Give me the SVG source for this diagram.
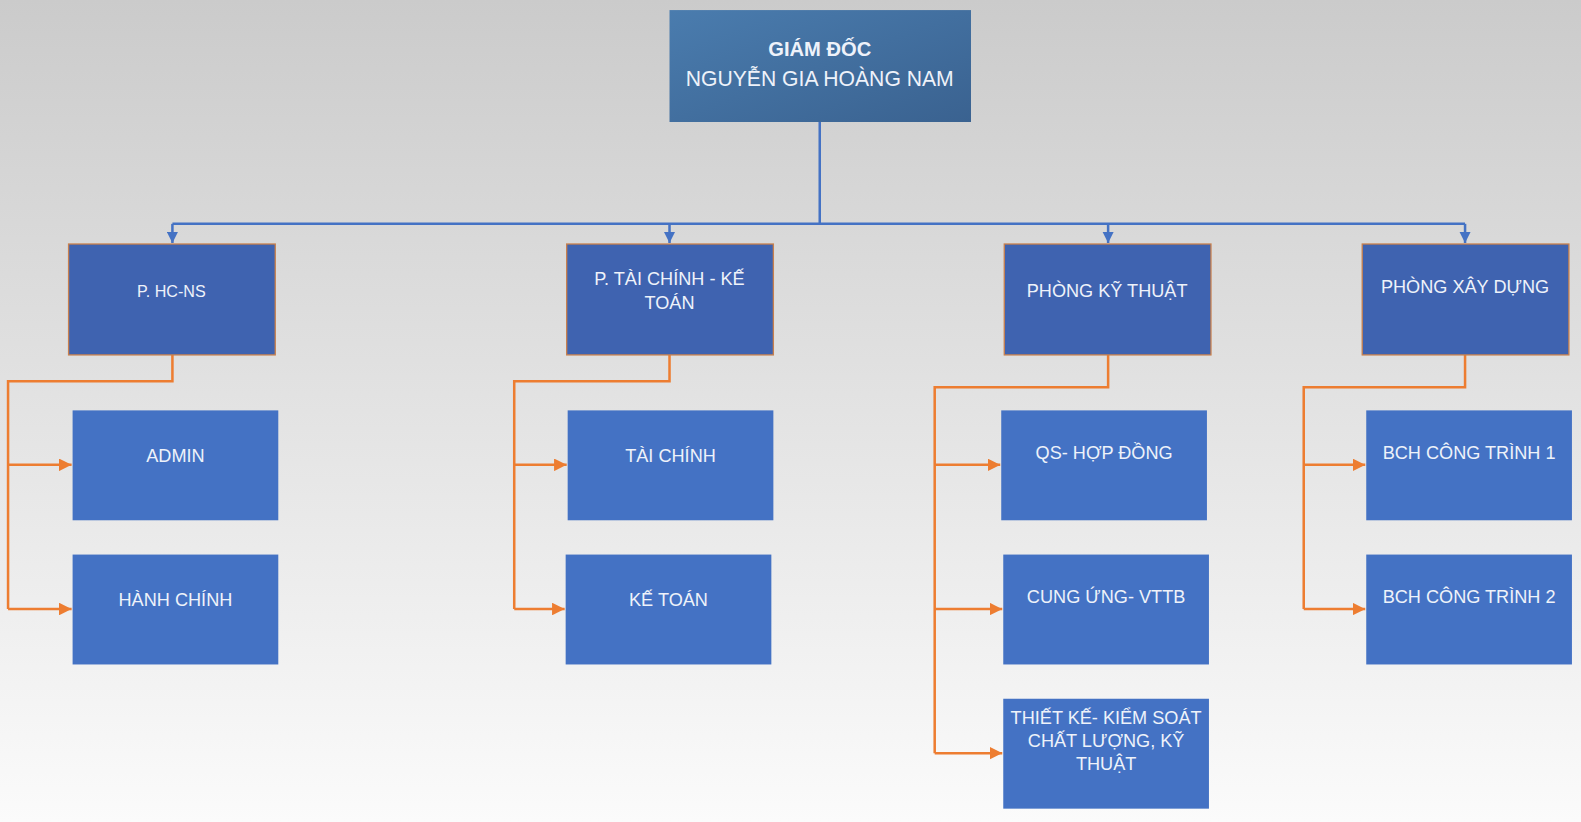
<svg xmlns="http://www.w3.org/2000/svg" width="1581" height="822" viewBox="0 0 1581 822">
<defs>
<linearGradient id="bg" x1="0" y1="0" x2="0" y2="1">
<stop offset="0" stop-color="#cbcbcb"/>
<stop offset="1" stop-color="#fbfbfb"/>
</linearGradient>
<linearGradient id="top" x1="0" y1="0" x2="1" y2="1">
<stop offset="0" stop-color="#4a7cae"/>
<stop offset="1" stop-color="#3a6290"/>
</linearGradient>
<marker id="ab" viewBox="0 0 10 10" refX="10" refY="5" markerWidth="4.5" markerHeight="4.5" orient="auto" markerUnits="strokeWidth">
<path d="M0,0 L10,5 L0,10 z" fill="#4472c4"/>
</marker>
<marker id="ao" viewBox="0 0 10 10" refX="10" refY="5" markerWidth="5" markerHeight="5" orient="auto" markerUnits="strokeWidth">
<path d="M0,0 L10,5 L0,10 z" fill="#ed7d31"/>
</marker>
</defs>
<style>
text{font-family:"Liberation Sans","Noto Sans",sans-serif;fill:#eef2fa;text-anchor:middle}
.l2{fill:#3f63b0;stroke:#c8804e;stroke-width:1.3}
.l3{fill:#4472c4}
.t2{font-size:18px}
.t3{font-size:18px}
.ts{font-size:16px}
.b{stroke:#4472c4;stroke-width:2.5;fill:none}
.o{stroke:#ed7d31;stroke-width:2.5;fill:none}
</style>
<rect width="1581" height="822" fill="url(#bg)"/>
<g transform="scale(1.0083)">
<g id="connectors">
<path class="b" d="M813,121 V222"/>
<path class="b" d="M171,222 H1453"/>
<path class="b" d="M171,222 V241" marker-end="url(#ab)"/>
<path class="b" d="M664,222 V241" marker-end="url(#ab)"/>
<path class="b" d="M1099,222 V241" marker-end="url(#ab)"/>
<path class="b" d="M1453,222 V241" marker-end="url(#ab)"/>
<path class="o" d="M171,352 V378 H8 V604"/>
<path class="o" d="M8,461 H71" marker-end="url(#ao)"/>
<path class="o" d="M8,604 H71" marker-end="url(#ao)"/>
<path class="o" d="M664,352 V378 H510 V604"/>
<path class="o" d="M510,461 H562" marker-end="url(#ao)"/>
<path class="o" d="M510,604 H560" marker-end="url(#ao)"/>
<path class="o" d="M1099,352 V384 H927 V747"/>
<path class="o" d="M927,461 H992" marker-end="url(#ao)"/>
<path class="o" d="M927,604 H994" marker-end="url(#ao)"/>
<path class="o" d="M927,747 H994" marker-end="url(#ao)"/>
<path class="o" d="M1453,352 V384 H1293 V604"/>
<path class="o" d="M1293,461 H1354" marker-end="url(#ao)"/>
<path class="o" d="M1293,604 H1354" marker-end="url(#ao)"/>
</g>
<g id="giam-doc">
<rect x="664" y="10" width="299" height="111" fill="url(#top)"/>
<text x="813" y="56" font-size="20" font-weight="bold">GIÁM ĐỐC</text>
<text x="813" y="85" font-size="21">NGUYỄN GIA HOÀNG NAM</text>
</g>
<g id="p-hcns">
<rect class="l2" x="68" y="242" width="205" height="110"/>
<text class="ts" x="170" y="295">P. HC-NS</text>
</g>
<g id="p-tckt">
<rect class="l2" x="562" y="242" width="205" height="110"/>
<text class="t2" x="664" y="283">P. TÀI CHÍNH - KẾ</text>
<text class="t2" x="664" y="306">TOÁN</text>
</g>
<g id="p-kt">
<rect class="l2" x="996" y="242" width="205" height="110"/>
<text class="t2" x="1098" y="295">PHÒNG KỸ THUẬT</text>
</g>
<g id="p-xd">
<rect class="l2" x="1351" y="242" width="205" height="110"/>
<text class="t2" x="1453" y="291">PHÒNG XÂY DỰNG</text>
</g>
<g id="admin">
<rect class="l3" x="72" y="407" width="204" height="109"/>
<text class="t3" x="174" y="458">ADMIN</text>
</g>
<g id="hanh-chinh">
<rect class="l3" x="72" y="550" width="204" height="109"/>
<text class="t3" x="174" y="601">HÀNH CHÍNH</text>
</g>
<g id="tai-chinh">
<rect class="l3" x="563" y="407" width="204" height="109"/>
<text class="t3" x="665" y="458">TÀI CHÍNH</text>
</g>
<g id="ke-toan">
<rect class="l3" x="561" y="550" width="204" height="109"/>
<text class="t3" x="663" y="601">KẾ TOÁN</text>
</g>
<g id="qs-hop-dong">
<rect class="l3" x="993" y="407" width="204" height="109"/>
<text class="t3" x="1095" y="455">QS- HỢP ĐỒNG</text>
</g>
<g id="cung-ung">
<rect class="l3" x="995" y="550" width="204" height="109"/>
<text class="t3" x="1097" y="598">CUNG ỨNG- VTTB</text>
</g>
<g id="thiet-ke">
<rect class="l3" x="995" y="693" width="204" height="109"/>
<text class="t3" x="1097" y="718">THIẾT KẾ- KIỂM SOÁT</text>
<text class="t3" x="1097" y="741">CHẤT LƯỢNG, KỸ</text>
<text class="t3" x="1097" y="764">THUẬT</text>
</g>
<g id="bch-1">
<rect class="l3" x="1355" y="407" width="204" height="109"/>
<text class="t3" x="1457" y="455">BCH CÔNG TRÌNH 1</text>
</g>
<g id="bch-2">
<rect class="l3" x="1355" y="550" width="204" height="109"/>
<text class="t3" x="1457" y="598">BCH CÔNG TRÌNH 2</text>
</g>
</g>
</svg>
